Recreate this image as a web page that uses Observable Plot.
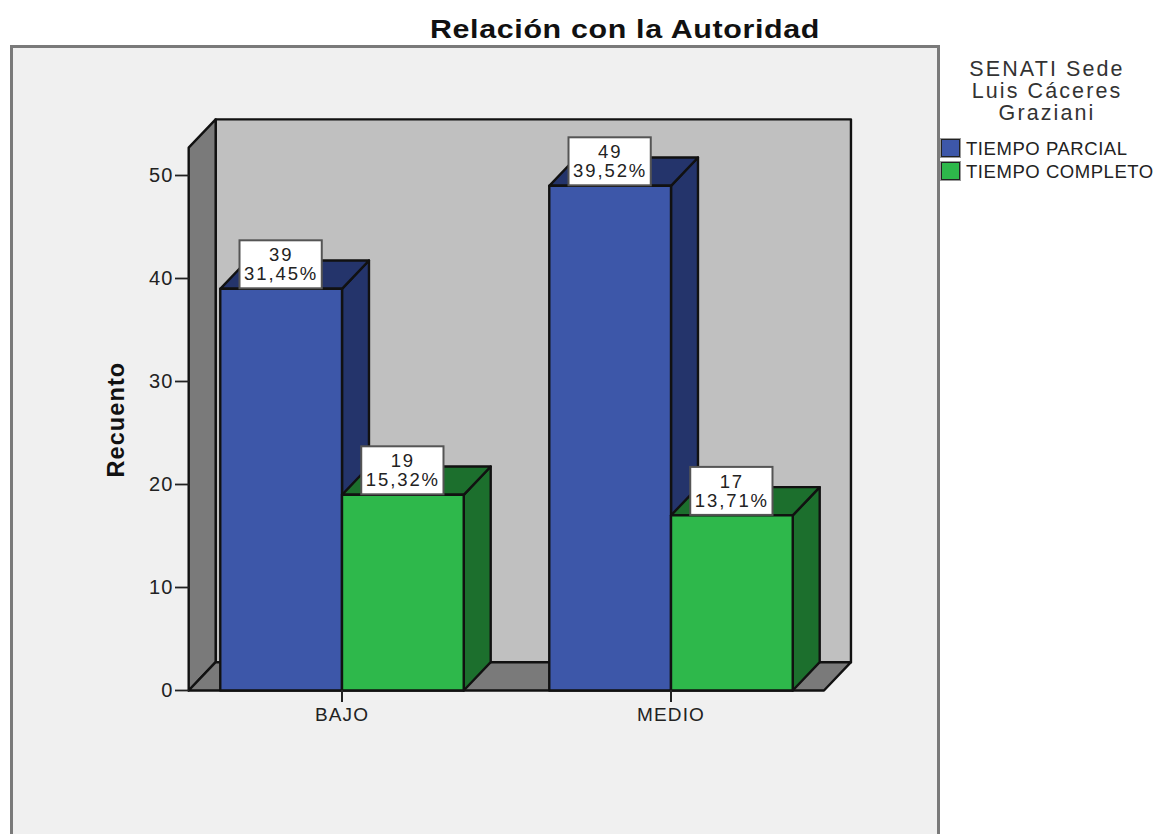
<!DOCTYPE html>
<html>
<head>
<meta charset="utf-8">
<script src="https://cdn.jsdelivr.net/npm/d3@7"></script>
<script src="https://cdn.jsdelivr.net/npm/@observablehq/plot@0.6"></script>
<style>
  html, body { margin: 0; padding: 0; background: #fff; width: 1155px; height: 834px; overflow: hidden; font-family: "Liberation Sans", Arial, sans-serif; }
  #panel { position: absolute; left: 10px; top: 45px; width: 924px; height: 800px; background: #f0f0f0; border: 3px solid #7a7a7a; box-sizing: content-box; }
  #chart { position: absolute; left: 0; top: 0; }
  #title { position: absolute; left: 329px; width: 592px; top: 14px; text-align: center; font-weight: bold; font-size: 26px; line-height: 30px; color: #111; letter-spacing: .55px; white-space: nowrap; transform: scaleX(1.17); transform-origin: 296px 0; }
  #legend-title { position: absolute; left: 947px; width: 200px; top: 58px; text-align: center; font-size: 21.5px; line-height: 22px; color: #333; letter-spacing: 2.1px; }
  .legend-item { position: absolute; left: 941px; height: 20px; white-space: nowrap; font-size: 18.5px; line-height: 20px; color: #222; letter-spacing: .55px; }
  .legend-item i { position: absolute; left: 0; top: 0; width: 17px; height: 16px; border: 1.5px solid #222; outline: 1px solid #999; }
  .legend-item span { position: absolute; left: 25px; top: 0; }
  svg text { letter-spacing: 1.1px; }
  svg .box-label text, svg text.box-label, svg .box-label tspan { letter-spacing: 1.9px; }
</style>
</head>
<body>
<div id="panel"></div>
<div id="chart"></div>
<div id="title">Relación con la Autoridad</div>
<div id="legend-title">SENATI Sede<br>Luis Cáceres<br>Graziani</div>
<div id="legend"></div>
<script>
const categories = ["BAJO", "MEDIO"];
const seriesNames = ["TIEMPO PARCIAL", "TIEMPO COMPLETO"];
const parcial = [39, 49];
const completo = [19, 17];
const parcialPct = ["31,45%", "39,52%"];
const completoPct = ["15,32%", "13,71%"];
const yTicks = [0, 10, 20, 30, 40, 50];

const frontColors = ["#3d57a9", "#2eb84b"];
const sideColors = ["#24346b", "#1c6f2d"];
const topColors = ["#24346b", "#1c6f2d"];

// 3D construction, in scale units
const barW = 0.37;        // width of one bar
const dX = 0.082;         // depth along x
const dY = 2.75;          // depth along y
const wallL = -0.466, wallR = 1.465, wallTop = 52.7;
const boxHalf = 0.125, boxH = 4.66;

const faces = [];
function face(id, fill, pts) { pts.forEach(([x, y]) => faces.push({id, fill, x, y})); }

face("back", "#c0c0c0", [[wallL + dX, dY], [wallR + dX, dY], [wallR + dX, wallTop + dY], [wallL + dX, wallTop + dY]]);
face("left", "#7a7a7a", [[wallL, 0], [wallL + dX, dY], [wallL + dX, wallTop + dY], [wallL, wallTop]]);
face("floor", "#7a7a7a", [[wallL, 0], [wallL + dX, dY], [wallR + dX, dY], [wallR, 0]]);

const labels = [];
categories.forEach((cat, c) => {
  [parcial, completo].forEach((vals, s) => {
    const v = vals[c];
    const x0 = c + (s === 0 ? -barW : 0), x1 = x0 + barW;
    face(`side-${c}-${s}`, sideColors[s], [[x1, 0], [x1 + dX, dY], [x1 + dX, v + dY], [x1, v]]);
    face(`top-${c}-${s}`, topColors[s], [[x0, v], [x0 + dX, v + dY], [x1 + dX, v + dY], [x1, v]]);
    face(`front-${c}-${s}`, frontColors[s], [[x0, 0], [x1, 0], [x1, v], [x0, v]]);
    labels.push({cx: (x0 + x1) / 2, v, text: `${v}\n${(s === 0 ? parcialPct : completoPct)[c]}`});
  });
});

const chart = Plot.plot({
  width: 1155,
  height: 834,
  marginLeft: 189,
  marginRight: 0,
  marginTop: 0,
  marginBottom: 144,
  style: {background: "transparent", fontFamily: "'Liberation Sans', Arial, sans-serif", color: "#222", overflow: "visible"},
  x: {type: "linear", domain: [0, 1], range: [341.5, 670.5]},
  y: {domain: [0, 50], range: [690, 175]},
  color: {type: "identity"},
  marks: [
    Plot.line(faces, {x: "x", y: "y", z: "id", fill: "fill", stroke: "#111", strokeWidth: 2.4, curve: "linear-closed", strokeLinejoin: "round"}),
    Plot.axisY({ticks: yTicks, label: null, tickSize: 14, tickPadding: 2, fontSize: 20, stroke: "#222", strokeWidth: 1.8}),
    Plot.axisX({ticks: [0, 1], tickFormat: i => categories[i], label: null, tickSize: 12, tickPadding: 5, fontSize: 19, stroke: "#222", strokeWidth: 2}),
    Plot.rect(labels, {
      x1: d => d.cx - boxHalf, x2: d => d.cx + boxHalf,
      y1: "v", y2: d => d.v + boxH,
      fill: "#fff", stroke: "#555", strokeWidth: 2
    }),
    Plot.text(labels, {x: "cx", y: d => d.v + boxH / 2, text: "text", fontSize: 18.5, lineHeight: 1, fill: "#222", textAnchor: "middle", className: "box-label"}),
    Plot.text(["Recuento"], {x: -0.684, y: 26.3, text: d => d, rotate: -90, fontSize: 23.5, fontWeight: "bold", fill: "#111"})
  ]
});
document.getElementById("chart").append(chart);

const legend = d3.select("#legend");
seriesNames.forEach((name, s) => {
  const item = legend.append("div").attr("class", "legend-item").style("top", `${139 + s * 22.5}px`);
  item.append("i").style("background", frontColors[s]);
  item.append("span").text(name);
});
</script>
</body>
</html>
